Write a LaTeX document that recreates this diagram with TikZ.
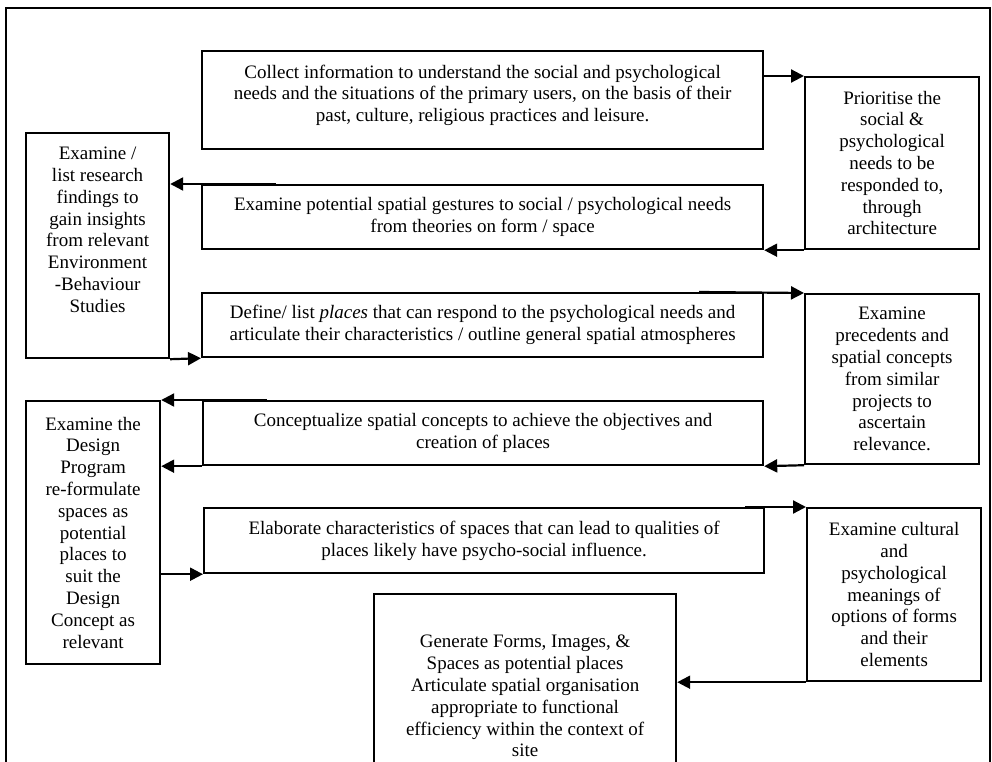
\documentclass[tikz,border=0pt]{standalone}
\usepackage{fontspec}
\setmainfont{Liberation Serif}
\usetikzlibrary{arrows.meta}
\newcommand{\padlast}[1]{\\[#1]\mbox{}}
\tikzset{
  box/.style={draw, line width=2.2pt, align=center, inner sep=2pt, anchor=north west,
    font=\fontsize{19}{21.8}\selectfont},
  arr/.style={line width=2.2pt, -{Triangle[length=13pt,width=13pt]}},
  frameline/.style={line width=2.2pt}
}
\begin{document}
\begin{tikzpicture}[x=1pt,y=-1pt]
\useasboundingbox (0,0) rectangle (992,762);
\clip (0,0) rectangle (992,762);
\draw[frameline] (6,780) -- (6,8) -- (990,8) -- (990,780);

\node[box, minimum width=561pt, minimum height=98pt] (A) at (201,50)
  {Collect information to understand the social and psychological\\
   needs and the situations of the primary users, on the basis of their\\
   past, culture, religious practices and leisure.\padlast{-8pt}};
\node[box, minimum width=174pt, minimum height=172pt] (P) at (804,76)
  {Prioritise the\\ social \&\\ psychological\\ needs to be\\ responded to,\\ through\\ architecture};
\node[box, minimum width=143pt, minimum height=225pt] (L1) at (25,132)
  {Examine /\\ list research\\ findings to\\ gain insights\\ from relevant\\ Environment\\ -Behaviour\\ Studies\padlast{10pt}};
\node[box, minimum width=561pt, minimum height=64pt] (B) at (201,184)
  {Examine potential spatial gestures to social / psychological needs\\
   from theories on form / space};
\node[box, minimum width=561pt, minimum height=64pt] (C) at (201,292)
  {Define/ list \textit{places} that can respond to the psychological needs and\\
   articulate their characteristics / outline general spatial atmospheres};
\node[box, minimum width=174pt, minimum height=170pt] (Pr) at (804,293)
  {Examine\\ precedents and\\ spatial concepts\\ from similar\\ projects to\\ ascertain\\ relevance.};
\node[box, minimum width=560pt, minimum height=64pt] (D) at (202,400)
  {Conceptualize spatial concepts to achieve the objectives and\\
   creation of places};
\node[box, minimum width=134pt, minimum height=263pt] (L2) at (25,400)
  {Examine the\\ Design\\ Program\\ re-formulate\\ spaces as\\ potential\\ places to\\ suit the\\ Design\\ Concept as\\ relevant};
\node[box, minimum width=560pt, minimum height=65pt] (E) at (203,507)
  {Elaborate characteristics of spaces that can lead to qualities of\\
   places likely have psycho-social influence.};
\node[box, minimum width=174pt, minimum height=173pt] (Cu) at (806,507)
  {Examine cultural\\ and\\ psychological\\ meanings of\\ options of forms\\ and their\\ elements};
\node[box, minimum width=302pt, minimum height=204pt] (G) at (373,593)
  {Generate Forms, Images, \&\\ Spaces as potential places\\ Articulate spatial organisation\\
   appropriate to functional\\ efficiency within the context of\\ site};

\draw[arr] (A.north east |- P.north) -- (P.north west);
\draw[arr] (P.south west) -- (B.south east);
\draw[arr] ([xshift=75pt]B.north west) -- (L1.east |- B.north);
\draw[arr] (L1.south east) -- (C.south west);
\draw[arr] ([xshift=-65pt]C.north east) -- (Pr.north west);
\draw[arr] (Pr.south west) -- (D.south east);
\draw[arr] ([xshift=65pt]D.north west) -- (L2.north east);
\draw[arr] (D.south west) -- (L2.east |- D.south);
\draw[arr] (L2.east |- E.south) -- (E.south west);
\draw[arr] ([xshift=-20pt]E.north east) -- (Cu.north west);
\draw[arr] (Cu.south west) -- (G.east |- Cu.south);
\end{tikzpicture}
\end{document}
